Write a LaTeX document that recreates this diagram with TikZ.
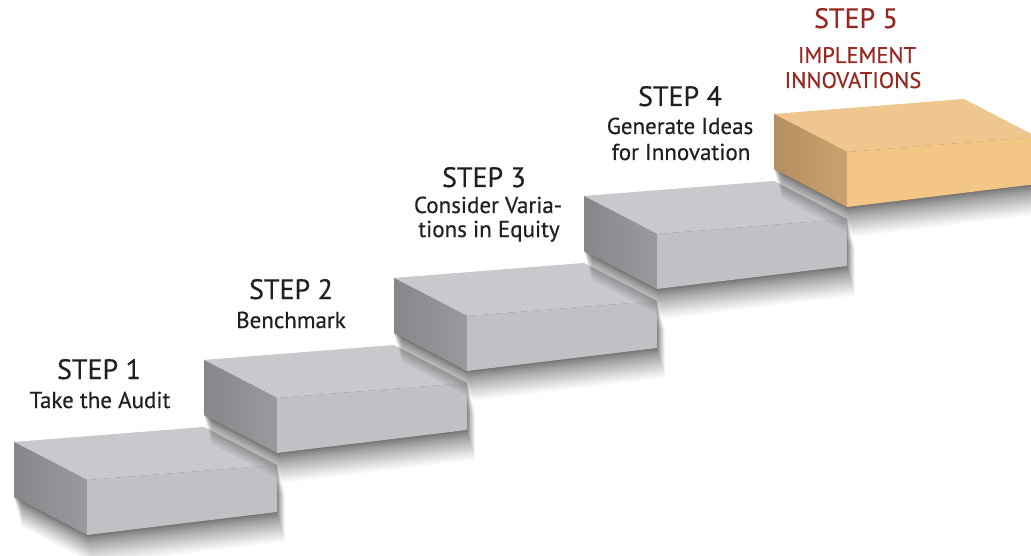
\documentclass[tikz,border=0pt]{standalone}
\usepackage{fontspec}
\setmainfont{PT Sans}
\newfontfamily\stepfont[FakeBold=0.5]{PT Sans}
\usetikzlibrary{positioning}

\definecolor{graytop}{RGB}{199,201,205}
\definecolor{grayfront}{RGB}{191,193,197}
\definecolor{grayside}{RGB}{148,150,154}
\definecolor{orangetop}{RGB}{238,198,142}
\definecolor{orangefront}{RGB}{243,198,133}
\definecolor{orangeside}{RGB}{200,158,105}
\definecolor{textdark}{RGB}{35,31,32}
\definecolor{textred}{RGB}{150,42,34}

\begin{document}
\begin{tikzpicture}[x=1pt, y=-1pt,
                    steptitle/.style={font=\stepfont\fontsize{28}{30}\selectfont, text=textdark, inner sep=0pt, anchor=base},
                    stepdesc/.style={font=\stepfont\fontsize{23}{26}\selectfont, text=textdark, inner sep=0pt, anchor=base},
                    lasttitle/.style={steptitle, text=textred},
                    lastdesc/.style={font=\stepfont\fontsize{22.5}{24}\selectfont, text=textred, inner sep=0pt, anchor=base},
                    shadowlayer/.style={fill=black, opacity=0.031}]

    \useasboundingbox (0,0) rectangle (1031,556);
    \clip (0,0) rectangle (1031,556);

    % Stair blocks, lowest first
    \foreach \k/\topc/\frontc/\sidec in {0/graytop/grayfront/grayside,
                                         1/graytop/grayfront/grayside,
                                         2/graytop/grayfront/grayside,
                                         3/graytop/grayfront/grayside,
                                         4/orangetop/orangefront/orangeside} {
        \begin{scope}[shift={({87+190*\k},{480-82*\k})}]
            % soft shadow
            \foreach \s in {1,...,28}
                \fill[shadowlayer, shift={({0.01*\s*\s},{0.0375*\s*\s})}]
                    (-73,-38) -- (117,-53) -- (190,-15) -- (190,32) -- (0,55) -- (-73,17) -- cycle;
            \coordinate (a\k) at (-73,-38); % back left
            \coordinate (g\k) at (117,-53); % back right
            \coordinate (c\k) at (190,-15); % front right
            \coordinate (b\k) at (0,0);     % front left
            \coordinate (d\k) at (0,55);    % bottom front left
            \coordinate (e\k) at (-73,17);  % bottom back left
            \coordinate (f\k) at (190,32);  % bottom front right
            % faces
            \fill[\topc] (a\k) -- (g\k) -- (c\k) -- (b\k) -- cycle;
            \shade[left color=\sidec!90!black, right color=\sidec!96!white] (a\k) -- (b\k) -- (d\k) -- (e\k) -- cycle;
            \fill[\frontc] (b\k) -- (c\k) -- (f\k) -- (d\k) -- cycle;
        \end{scope}
    }

    % Step 1
    \node[steptitle] (t1) at (99,379) {STEP 1};
    \node[stepdesc] (d1) at (100,408) {Take the Audit};

    % Step 2
    \node[steptitle] (t2) at (291,299) {STEP 2};
    \node[stepdesc] (d2) at (291,328) {Benchmark};

    % Step 3
    \node[steptitle] (t3) at (484,187) {STEP 3};
    \node[stepdesc] (d3a) at (488,213) {Consider Varia-};
    \node[stepdesc] (d3b) at (489,237) {tions in Equity};

    % Step 4
    \node[steptitle] (t4) at (680,106) {STEP 4};
    \node[stepdesc] (d4a) at (680,134) {Generate Ideas};
    \node[stepdesc] (d4b) at (681,160) {for Innovation};

    % Step 5
    \node[lasttitle] (t5) at (856,28) {STEP 5};
    \node[lastdesc] (d5a) at (857,63) {IMPLEMENT};
    \node[lastdesc] (d5b) at (853,88) {INNOVATIONS};
\end{tikzpicture}
\end{document}
